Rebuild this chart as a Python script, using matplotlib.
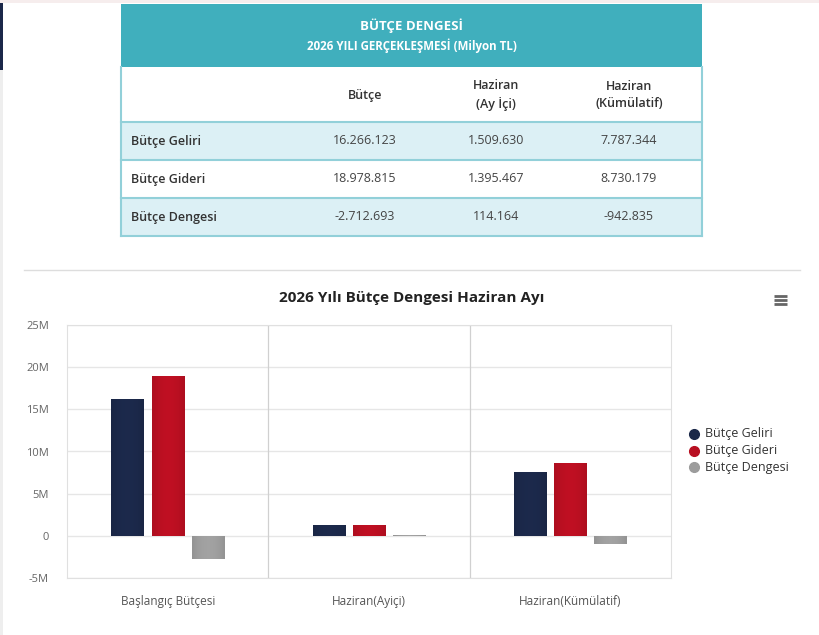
import matplotlib
matplotlib.use("Agg")
import matplotlib.pyplot as plt
import matplotlib.patches as patches
from matplotlib.colors import to_rgb
import numpy as np

plt.rcParams['font.family'] = ['Open Sans', 'DejaVu Sans']

# === Table data ===
table_title = "BÜTÇE DENGESİ"
table_subtitle = "2026 YILI GERÇEKLEŞMESİ (Milyon TL)"
col_headers = ["Bütçe", "Haziran\n(Ay İçi)", "Haziran\n(Kümülatif)"]
row_labels = ["Bütçe Geliri", "Bütçe Gideri", "Bütçe Dengesi"]
table_values = [
    ["16.266.123", "1.509.630", "7.787.344"],
    ["18.978.815", "1.395.467", "8.730.179"],
    ["-2.712.693", "114.164", "-942.835"],
]

# === Chart data (millions) ===
chart_title = "2026 Yılı Bütçe Dengesi Haziran Ayı"
categories = ["Başlangıç Bütçesi", "Haziran(Ayiçi)", "Haziran(Kümülatif)"]
series_names = ["Bütçe Geliri", "Bütçe Gideri", "Bütçe Dengesi"]
gelir = [16.2, 1.33, 7.6]
gider = [18.9, 1.24, 8.65]
denge = [-2.7, 0.05, -0.95]
yticks = [-5, 0, 5, 10, 15, 20, 25]
ytick_labels = ["-5M", "0", "5M", "10M", "15M", "20M", "25M"]

colors = ['#1b2849', '#b80f21', '#9c9c9c']

W, H = 820, 635
fig = plt.figure(figsize=(W / 100, H / 100), dpi=100)

# === Background layer in pixel coords ===
bg = fig.add_axes([0, 0, 1, 1])
bg.set_xlim(0, W)
bg.set_ylim(H, 0)
bg.axis('off')

bg.add_patch(patches.Rectangle((0, 0), 3, H, facecolor='#eeeeee', edgecolor='none'))
bg.add_patch(patches.Rectangle((0, 0), 3, 70, facecolor='#1b2849', edgecolor='none'))
bg.add_patch(patches.Rectangle((0, 0), W, 3, facecolor='#f6eded', edgecolor='none'))

# table geometry
tx0, tx1 = 121, 702
head_top, head_bot = 4, 67
row_edges = [67, 122, 160, 198, 236]
row_fill = ['#ffffff', '#dcf0f5', '#ffffff', '#dcf0f5']
line_c = '#92d0d9'

bg.add_patch(patches.Rectangle((tx0, head_top), tx1 - tx0, head_bot - head_top,
                               facecolor='#40afbd', edgecolor='none'))
for i in range(4):
    bg.add_patch(patches.Rectangle((tx0, row_edges[i]), tx1 - tx0, row_edges[i + 1] - row_edges[i],
                                   facecolor=row_fill[i], edgecolor='none'))
for y in row_edges[1:]:
    bg.plot([tx0, tx1], [y, y], color=line_c, lw=1.5)
bg.plot([tx0, tx0], [head_bot, row_edges[-1]], color=line_c, lw=1.5)
bg.plot([tx1, tx1], [head_bot, row_edges[-1]], color=line_c, lw=1.5)

bg.text((tx0 + tx1) / 2, 26, table_title, ha='center', va='center', color='white',
        fontsize=9.5, fontweight='bold')
bg.text((tx0 + tx1) / 2, 46, table_subtitle, ha='center', va='center', color='white',
        fontsize=8.3, fontweight='bold')

col_centers = [365, 496, 629]
for cx, h in zip(col_centers, col_headers):
    bg.text(cx, 95, h, ha='center', va='center', color='#333333', fontsize=9,
            linespacing=1.45, fontweight='semibold')
for r, lab in enumerate(row_labels):
    yc = (row_edges[r + 1] + row_edges[r + 2]) / 2
    bg.text(131, yc, lab, ha='left', va='center', color='#333333', fontsize=9,
            fontweight='semibold')
    for cx, v in zip(col_centers, table_values[r]):
        bg.text(cx, yc, v, ha='center', va='center', color='#444444', fontsize=9)

# separator line
bg.plot([24, 800], [270, 270], color='#dddddd', lw=1)

# chart title and menu icon
bg.text(412, 298, chart_title, ha='center', va='center', color='#222222',
        fontsize=11, fontweight='bold')
for y in [296, 300, 304]:
    bg.plot([774, 787], [y, y], color='#666666', lw=2, solid_capstyle='butt')

# legend
for i, name in enumerate(series_names):
    y = 434 + i * 16.5
    bg.plot(694, y, 'o', color=colors[i], ms=7)
    bg.text(705, y, name, ha='left', va='center', color='#333333', fontsize=9)

# === Chart axes ===
px0, px1, py0, py1 = 67, 671, 325, 578
ax = fig.add_axes([px0 / W, 1 - py1 / H, (px1 - px0) / W, (py1 - py0) / H])
ax.set_xlim(-0.5, 2.5)
ax.set_ylim(-5, 25)
ax.set_facecolor('none')

x = np.arange(len(categories))
bw = 0.16
for j, (vals, off) in enumerate(zip([gelir, gider, denge], [-0.2, 0.0, 0.2])):
    bars = ax.bar(x + off, vals, width=bw, color=colors[j], zorder=3)
    # subtle horizontal shading like the reference bars
    base = np.array(to_rgb(colors[j]))
    t = np.linspace(-1, 1, 64)
    light = 1 - np.abs(t) ** 2
    grad = base[None, :] * (0.94 + 0.1 * light[:, None])
    grad = np.clip(grad, 0, 1)[None, :, :]
    for b in bars:
        bx, by = b.get_x(), b.get_y()
        bwid, bh = b.get_width(), b.get_height()
        im = ax.imshow(grad, extent=[bx, bx + bwid, min(by, by + bh), max(by, by + bh)],
                       aspect='auto', zorder=3.5, interpolation='bilinear')
        im.set_clip_path(b)

ax.set_yticks(yticks)
ax.set_yticklabels(ytick_labels)
ax.yaxis.grid(True, color='#e6e6e6', lw=1)
ax.set_axisbelow(True)
for xv in [0.5, 1.5]:
    ax.axvline(xv, color='#d0d0d0', lw=0.9, zorder=1)
ax.set_xticks(x)
ax.set_xticklabels(categories)
ax.set_xlim(-0.5, 2.5)
ax.set_ylim(-5, 25)
ax.tick_params(axis='both', length=0, colors='#555555', labelsize=8.5)
ax.tick_params(axis='y', pad=13, labelsize=8, colors='#666666')
ax.tick_params(axis='x', pad=12)
for s in ax.spines.values():
    s.set_color('#e0e0e0')

fig.savefig('out.png', dpi=100)
